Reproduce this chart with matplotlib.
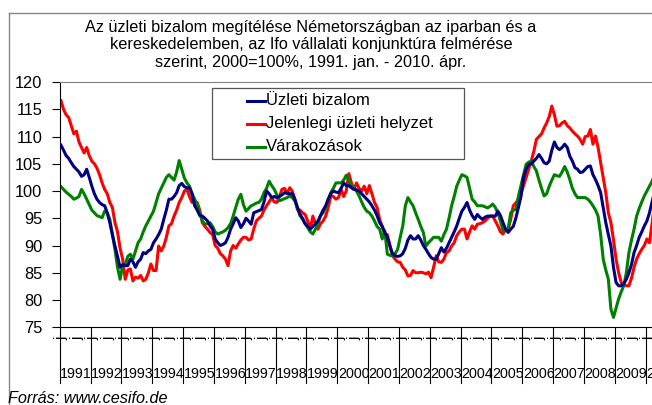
import matplotlib
matplotlib.use("Agg")
import matplotlib.pyplot as plt
import matplotlib.transforms as mtransforms
from matplotlib.lines import Line2D
from matplotlib.patches import Rectangle

plt.rcParams['font.family'] = ['Liberation Sans', 'DejaVu Sans']

# monthly values, 1991 jan - 2010 apr (2000=100)
years = list(range(1991, 2011))
month_marks = ['j', 'j']   # jan, júl

uzleti_bizalom = [
    108.4, 107.5, 106.5, 106.0, 105.2, 104.5, 104.0, 103.5, 102.7, 103.0, 104.0, 102.5,  # 1991
    100.9, 99.5, 98.5, 97.9, 97.5, 97.3, 96.0, 94.2, 92.0, 89.9, 88.0, 86.0,          # 1992
    86.5, 86.3, 86.3, 87.5, 87.0, 86.0, 87.0, 87.5, 88.7, 88.5, 89.0, 89.3,           # 1993
    90.5, 91.2, 92.0, 93.0, 94.8, 96.5, 98.5, 98.5, 99.0, 99.7, 101.0, 101.4,         # 1994
    100.8, 100.6, 100.6, 99.5, 97.3, 96.5, 95.5, 95.4, 95.0, 94.5, 93.6, 93.0,        # 1995
    91.2, 90.5, 90.0, 90.2, 90.5, 91.5, 93.0, 94.0, 95.1, 94.5, 93.3, 94.0,           # 1996
    95.0, 94.5, 93.9, 96.0, 96.2, 96.4, 96.6, 98.0, 100.0, 99.5, 98.8, 99.0,          # 1997
    98.8, 99.0, 99.3, 99.7, 99.6, 99.5, 99.5, 98.5, 97.0, 95.7, 95.0, 94.0,           # 1998
    93.5, 93.0, 93.5, 94.0, 94.5, 95.5, 96.5, 97.3, 98.5, 99.5, 100.0, 99.8,          # 1999
    99.7, 100.5, 101.5, 101.0, 101.0, 100.6, 100.3, 100.2, 100.0, 99.5, 99.0, 98.5,   # 2000
    98.0, 97.3, 96.5, 95.5, 94.2, 93.5, 92.4, 91.5, 89.9, 88.5, 88.1, 88.0,           # 2001
    88.1, 88.5, 89.5, 91.0, 91.8, 91.2, 91.2, 91.8, 91.0, 90.0, 89.3, 88.5,           # 2002
    87.8, 87.5, 87.5, 88.5, 89.6, 88.8, 89.5, 90.5, 91.5, 92.5, 93.6, 95.0,           # 2003
    96.3, 97.0, 97.9, 96.5, 95.5, 94.8, 95.7, 95.2, 94.8, 95.2, 95.4, 95.4,           # 2004
    95.4, 95.4, 96.3, 95.5, 94.2, 93.0, 92.4, 93.0, 93.5, 95.0, 97.0, 99.0,           # 2005
    102.5, 104.0, 104.9, 105.0, 105.5, 106.0, 106.7, 106.0, 105.2, 105.0, 105.5, 107.5,  # 2006
    109.0, 108.0, 107.6, 108.0, 108.6, 108.0, 106.4, 105.5, 104.3, 104.0, 103.4, 103.5,  # 2007
    104.0, 104.5, 104.6, 103.0, 102.1, 101.0, 99.7, 97.0, 94.2, 92.0, 89.9, 86.0,     # 2008
    83.2, 82.6, 82.6, 83.0, 83.8, 85.0, 86.5, 88.7, 90.0, 91.5, 92.5, 93.6,           # 2009
    94.5, 96.0, 98.0, 100.0,                                                          # 2010
]

jelenlegi_helyzet = [
    116.6, 115.0, 114.0, 113.5, 112.0, 110.5, 111.0, 109.0, 108.0, 107.0, 108.0, 106.5,  # 1991
    105.5, 105.0, 104.2, 103.0, 101.5, 100.3, 99.5, 97.9, 97.0, 94.2, 92.5, 89.5,     # 1992
    87.5, 83.8, 85.5, 85.7, 83.5, 84.2, 84.0, 84.5, 83.5, 83.8, 85.0, 86.6,           # 1993
    85.4, 85.4, 89.9, 89.0, 89.9, 91.5, 93.6, 94.0, 95.4, 96.5, 97.9, 98.8,           # 1994
    100.0, 100.3, 99.0, 97.9, 98.0, 97.9, 96.5, 94.2, 93.5, 93.0, 92.4, 92.0,         # 1995
    90.0, 89.5, 88.5, 88.1, 87.5, 86.3, 89.0, 90.0, 89.5, 90.3, 91.0, 91.5,           # 1996
    91.5, 91.0, 91.2, 93.0, 94.5, 95.0, 95.4, 96.5, 97.3, 98.0, 98.8, 98.0,           # 1997
    97.9, 99.0, 100.3, 100.5, 99.5, 100.6, 100.0, 98.5, 96.6, 96.5, 96.0, 95.7,       # 1998
    94.5, 93.0, 95.4, 94.0, 93.0, 94.0, 94.5, 95.4, 97.0, 99.1, 99.0, 98.5,           # 1999
    98.8, 100.3, 99.0, 100.0, 103.2, 101.5, 100.3, 101.5, 100.5, 100.0, 100.9, 99.5,  # 2000
    101.0, 99.5, 97.9, 97.0, 94.8, 93.5, 92.1, 92.0, 90.0, 88.1, 87.5, 87.0,          # 2001
    86.9, 86.0, 85.5, 84.4, 84.5, 85.4, 85.0, 85.0, 85.1, 85.0, 84.8, 85.1,           # 2002
    84.1, 86.0, 88.1, 87.0, 86.9, 87.5, 88.7, 89.0, 89.9, 90.5, 91.8, 92.5,           # 2003
    93.0, 93.0, 91.2, 92.5, 93.6, 93.0, 93.9, 94.0, 94.2, 94.5, 95.0, 95.4,           # 2004
    95.4, 94.5, 93.6, 92.5, 92.1, 93.0, 93.0, 94.8, 97.3, 97.8, 98.5, 99.5,           # 2005
    101.0, 102.5, 104.0, 105.5, 107.3, 109.5, 110.0, 110.5, 111.6, 112.5, 113.7, 115.6,  # 2006
    114.0, 111.9, 112.0, 112.5, 112.8, 112.0, 111.6, 111.0, 110.5, 110.1, 109.5, 108.6,  # 2007
    110.0, 110.1, 111.3, 108.6, 110.1, 108.0, 105.2, 102.5, 99.7, 96.0, 94.2, 91.0,   # 2008
    87.5, 85.0, 83.2, 82.8, 82.6, 82.6, 84.0, 86.0, 87.5, 88.5, 89.3, 90.0,           # 2009
    91.2, 90.5, 94.0, 98.0,                                                           # 2010
]

varakozasok = [
    100.8, 100.3, 99.8, 99.4, 99.0, 98.5, 98.7, 99.0, 100.3, 99.5, 98.5, 97.5,        # 1991
    96.5, 96.0, 95.5, 95.3, 95.1, 96.3, 96.0, 94.8, 92.0, 89.3, 86.0, 83.8,           # 1992
    86.3, 86.5, 88.0, 88.4, 87.5, 89.0, 90.5, 91.2, 92.5, 93.6, 94.5, 95.4,           # 1993
    96.3, 97.9, 99.5, 100.5, 101.5, 102.5, 103.0, 102.5, 102.0, 103.5, 105.6, 104.0,  # 1994
    102.4, 101.5, 100.9, 99.5, 98.5, 97.6, 96.0, 94.5, 93.9, 94.0, 94.2, 93.5,        # 1995
    92.5, 92.1, 92.3, 92.5, 92.8, 93.3, 94.0, 95.4, 97.0, 98.5, 99.4, 97.5,           # 1996
    96.3, 96.8, 97.3, 97.5, 97.8, 97.9, 98.5, 99.7, 100.5, 101.8, 101.0, 100.3,       # 1997
    99.3, 98.2, 98.4, 98.6, 98.8, 99.1, 98.8, 98.2, 97.0, 95.5, 94.8, 94.0,           # 1998
    93.3, 92.5, 92.1, 93.0, 94.0, 95.5, 96.0, 97.0, 98.5, 99.7, 100.5, 101.5,         # 1999
    101.5, 101.5, 102.0, 102.9, 102.0, 101.0, 100.6, 100.0, 99.1, 98.0, 97.0, 96.3,   # 2000
    96.0, 95.4, 94.5, 93.5, 93.0, 91.2, 92.7, 88.4, 88.2, 88.1, 88.5, 89.3,           # 2001
    91.5, 93.6, 97.3, 98.8, 98.0, 97.3, 96.0, 94.8, 93.5, 92.4, 89.9, 90.5,           # 2002
    91.0, 91.5, 91.5, 91.5, 90.8, 92.0, 93.0, 95.0, 97.3, 99.0, 100.9, 102.0,         # 2003
    103.0, 102.8, 102.5, 100.5, 98.5, 98.0, 97.3, 97.3, 97.3, 97.1, 96.9, 97.2,       # 2004
    97.6, 97.0, 96.0, 94.5, 92.7, 92.7, 93.0, 96.0, 96.5, 96.6, 99.0, 101.0,          # 2005
    103.0, 104.9, 105.3, 105.5, 104.5, 103.7, 102.0, 100.5, 99.1, 99.5, 100.9, 102.0, # 2006
    103.0, 102.8, 102.7, 103.5, 104.5, 103.5, 102.1, 100.5, 99.5, 98.8, 98.8, 98.8,   # 2007
    98.8, 98.5, 98.0, 97.3, 96.5, 95.4, 92.0, 87.5, 85.5, 83.8, 78.3, 76.8,           # 2008
    78.5, 80.2, 81.5, 82.6, 85.0, 88.7, 91.0, 93.0, 95.4, 96.8, 98.0, 99.1,           # 2009
    100.0, 100.9, 101.8, 103.0,                                                       # 2010
]

labels = ['Üzleti bizalom', 'Jelenlegi üzleti helyzet', 'Várakozások']
colors = ['#000080', '#ff0000', '#008000']

W, H = 652, 405
fig = plt.figure(figsize=(W / 100, H / 100), dpi=100)

def fx(px):
    return px / W

def fy(py):
    return 1 - py / H

ax = fig.add_axes([fx(59.7), fy(327.2), 596.2 / W, 245.1 / H])
x = list(range(len(uzleti_bizalom)))
ax.plot(x, uzleti_bizalom, color=colors[0], lw=2.2, zorder=3)
ax.plot(x, jelenlegi_helyzet, color=colors[1], lw=2.2, zorder=2)
ax.plot(x, varakozasok, color=colors[2], lw=2.2, zorder=2)

ax.set_xlim(-0.5, 231.5)
ax.set_ylim(75, 120)
ax.set_yticks(range(75, 121, 5))
ax.set_xticks([])
ax.tick_params(axis='y', direction='out', length=6, width=0.8, labelsize=11.8, pad=6.5)
ax.spines['left'].set_color('black')
ax.spines['bottom'].set_color('black')
ax.spines['top'].set_color('#808080')
ax.spines['right'].set_color('#808080')

# category axis: year separators, month marks and year labels
trans = mtransforms.blended_transform_factory(ax.transData, ax.transAxes)
for k, yr in enumerate(years):
    xb = 12 * k - 0.5
    ax.plot([xb, xb], [0, -0.229], transform=trans, color='black', lw=0.8, clip_on=False)
    ax.text(xb + 0.2, -0.191, str(yr), transform=trans, ha='left', va='center', fontsize=10.3)
    for j, mm in enumerate(month_marks):
        m = 12 * k + 6 * j
        if m < len(x) - 3:
            ax.text(m + 0.3, -0.044, mm, transform=trans, ha='center', va='center',
                    rotation=90, fontsize=11)

# legend box
fig.add_artist(Rectangle((fx(212), fy(159)), 252.3 / W, 70.7 / H, transform=fig.transFigure,
                         facecolor='white', edgecolor='#555555', lw=0.9, zorder=5))
for i, (lab, c) in enumerate(zip(labels, colors)):
    yy = fy(100.7 + 23 * i)
    fig.add_artist(Line2D([fx(247), fx(265)], [yy, yy], transform=fig.transFigure,
                          color=c, lw=2.2, zorder=6))
    fig.text(fx(266), yy, lab, ha='left', va='center', fontsize=12, zorder=6)

# title
title_lines = ['Az üzleti bizalom megítélése Németországban az iparban és a',
               'kereskedelemben, az Ifo vállalati konjunktúra felmérése',
               'szerint, 2000=100%, 1991. jan. - 2010. ápr.']
for i, t in enumerate(title_lines):
    fig.text(fx(311), fy(32 + 17.5 * i), t, ha='center', va='baseline', fontsize=11.7)

# chart area border
fig.add_artist(Line2D([fx(9), fx(9)], [fy(13), 0], transform=fig.transFigure, color='#888888', lw=1))
fig.add_artist(Line2D([fx(9), 1], [fy(13), fy(13)], transform=fig.transFigure, color='#888888', lw=1))

fig.text(fx(8), fy(403), 'Forrás: www.cesifo.de', style='italic', ha='left', va='baseline', fontsize=11.7)

fig.savefig('out.png', dpi=100)
